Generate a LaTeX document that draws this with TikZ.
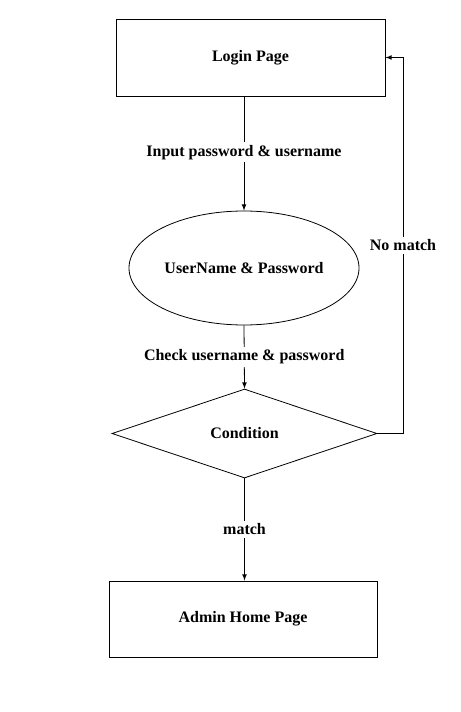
\documentclass[tikz,border=0pt]{standalone}
\usepackage{fontspec}
\setmainfont{Liberation Serif}
\usetikzlibrary{calc,arrows,shapes.geometric}
\tikzset{box/.style={draw,rectangle,line width=0.7pt,inner sep=0pt},
  ell/.style={draw,ellipse,line width=0.6pt,inner sep=0pt},
  dia/.style={draw,diamond,line width=0.6pt,inner sep=0pt},
  lbl/.style={fill=white,inner sep=2pt},
  flow/.style={-latex,line width=0.6pt}}

\begin{document}
\begin{tikzpicture}[x=0.75pt,y=-0.75pt,font=\bfseries\fontsize{12}{14}\selectfont]
              \useasboundingbox(0,0)rectangle(460,712);
              \node[box,minimum width=201.75pt,minimum height=57.75pt](login)at(250.5,57.5){Login Page};
              \node[ell,minimum width=172.5pt,minimum height=85.5pt](user)at(244,268){UserName \& Password};
              \node[dia,minimum width=198.75pt,minimum height=66.75pt](cond)at(244.5,433.5){Condition};
              \node[box,minimum width=201pt,minimum height=57pt](admin)at(243,619){Admin Home Page};
              \coordinate(turn)at(403,433.5);
              \draw[flow](login.south -| user.north)--(user.north) node[lbl,pos=0.49]{Input password \& username};
              \draw[flow](user.south)--(cond.north) node[lbl,midway]{Check username \& password};
              \draw[flow](cond.south)--(admin.north -| cond.south) node[lbl,midway]{match};
              \draw[flow](cond.east)--(turn)|-(login.east) node[lbl,pos=0.25]{No match};
            \end{tikzpicture}
\end{document}
